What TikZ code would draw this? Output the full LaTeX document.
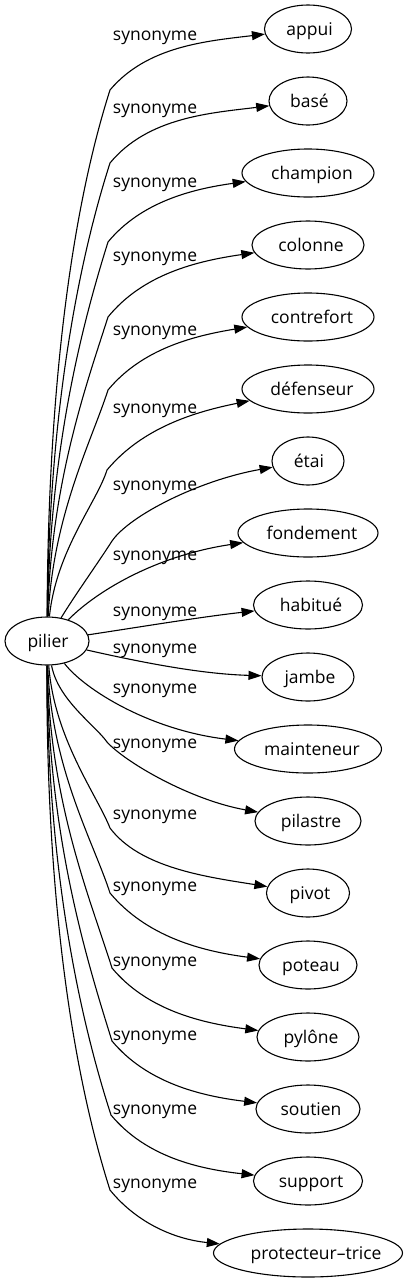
\documentclass[tikz,border=0pt]{standalone}
\usepackage{fontspec}
\setmainfont{Open Sans}
\usetikzlibrary{arrows.meta,shapes.geometric}
\newcommand\nt[2]{\makebox[0pt]{\hspace*{#1pt}#2}}
\begin{document}
\begin{tikzpicture}[x=1pt,y=-1pt,
  font=\fontsize{17.5}{21}\selectfont,
  word/.style={draw, ellipse, line width=1.1pt, minimum height=48pt, inner sep=0pt,
    text height=16.4pt, text depth=4.4pt},
  lbl/.style={anchor=base, inner sep=0pt},
  edge/.style={line width=1.1pt, -{Triangle[length=13pt,width=9pt]}}]
\useasboundingbox (0,0) rectangle (407,1283);
% nodes
\node[word, minimum width=84pt] (pilier) at (47,641) {\nt{2}{pilier}};
\node[word, minimum width=87pt] (appui) at (308,29) {\nt{3}{appui}};
\node[word, minimum width=78pt] (base) at (308,101) {\nt{3}{basé}};
\node[word, minimum width=132pt] (champion) at (308,173) {\nt{8}{champion}};
\node[word, minimum width=112pt] (colonne) at (308,245) {\nt{6}{colonne}};
\node[word, minimum width=132pt] (contrefort) at (308,317) {\nt{8}{contrefort}};
\node[word, minimum width=132pt] (defenseur) at (308,389) {\nt{8}{défenseur}};
\node[word, minimum width=72pt] (etai) at (308,461) {\nt{2}{étai}};
\node[word, minimum width=140pt] (fondement) at (308,533) {\nt{8}{fondement}};
\node[word, minimum width=109pt] (habitue) at (308,605) {\nt{6}{habitué}};
\node[word, minimum width=92pt] (jambe) at (308,677) {\nt{4}{jambe}};
\node[word, minimum width=147pt] (mainteneur) at (308,749) {\nt{8}{mainteneur}};
\node[word, minimum width=106pt] (pilastre) at (308,821) {\nt{6}{pilastre}};
\node[word, minimum width=83pt] (pivot) at (308,893) {\nt{4}{pivot}};
\node[word, minimum width=98pt] (poteau) at (308,965) {\nt{6}{poteau}};
\node[word, minimum width=102pt] (pylone) at (308,1037) {\nt{6}{pylône}};
\node[word, minimum width=104pt] (soutien) at (308,1109) {\nt{6}{soutien}};
\node[word, minimum width=109pt] (support) at (308,1181) {\nt{6}{support}};
\node[word, minimum width=189pt] (protecteur) at (308,1253) {\nt{16}{protecteur–trice}};
% edges
\draw[edge] (pilier) .. controls (48,380) and (73,206) .. (110,90) .. controls (147,46) and (207,41) .. (appui);
\draw[edge] (pilier) .. controls (49,413) and (78,263) .. (110,163) .. controls (148,117) and (211,113) .. (base);
\draw[edge] (pilier) .. controls (50,448) and (82,325) .. (108,242) .. controls (141,202) and (192,189) .. (champion);
\draw[edge] (pilier) .. controls (51,482) and (87,383) .. (108,317) .. controls (143,274) and (197,261) .. (colonne);
\draw[edge] (pilier) .. controls (53,515) and (92,440) .. (108,390) .. controls (142,349) and (193,336) .. (contrefort);
\draw[edge] (pilier) .. controls (56,551) and (97,502) .. (107,470) .. controls (142,428) and (194,412) .. (defenseur);
\draw[edge] (pilier) .. controls (75,595) and (100,560) .. (112,541) .. controls (130,515) and (200,480) .. (etai);
\draw[edge] (pilier) .. controls (100,588) and (160,555) .. (fondement);
\draw[edge] (pilier) .. controls (140,627) and (200,617) .. (habitue);
\draw[edge] (pilier) .. controls (140,662) and (200,674) .. (jambe);
\draw[edge] (pilier) .. controls (85,690) and (150,730) .. (mainteneur);
\draw[edge] (pilier) .. controls (58,700) and (95,725) .. (107,742) .. controls (125,762) and (190,800) .. (pilastre);
\draw[edge] (pilier) .. controls (54,738) and (97,795) .. (110,828) .. controls (140,868) and (207,877) .. (pivot);
\draw[edge] (pilier) .. controls (51,768) and (94,843) .. (110,893) .. controls (146,936) and (200,951) .. (poteau);
\draw[edge] (pilier) .. controls (49,801) and (91,901) .. (112,968) .. controls (147,1010) and (201,1023) .. (pylone);
\draw[edge] (pilier) .. controls (48,834) and (86,958) .. (112,1041) .. controls (147,1083) and (201,1096) .. (soutien);
\draw[edge] (pilier) .. controls (47,867) and (79,1016) .. (111,1115) .. controls (146,1157) and (199,1169) .. (support);
\draw[edge] (pilier) .. controls (46,901) and (73,1074) .. (110,1190) .. controls (136,1222) and (173,1239) .. (protecteur);
% labels
\foreach \yy [count=\i] in {35,108,182,256,330,408,485,555,611,648,688,743,814,886,961,1035,1109,1183}
  \node[lbl] (lab\i) at (155,\yy+5) {synonyme};
\end{tikzpicture}
\end{document}
